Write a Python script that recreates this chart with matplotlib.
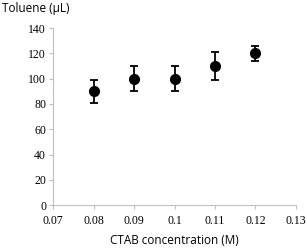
import matplotlib.pyplot as plt

conc = [0.08, 0.09, 0.10, 0.11, 0.12]
toluene = [90, 100, 100, 110, 120]
err = [9, 10, 10, 11, 6]
xticks = [0.07, 0.08, 0.09, 0.1, 0.11, 0.12, 0.13]
xlabels = ['0.07', '0.08', '0.09', '0.1', '0.11', '0.12', '0.13']
yticks = [0, 20, 40, 60, 80, 100, 120, 140]

fig = plt.figure(figsize=(3.07, 2.48), dpi=100)
ax = fig.add_axes([0.173, 0.173, 0.791, 0.714])
ax.errorbar(conc, toluene, yerr=err, fmt='o', color='black', markersize=7,
            elinewidth=1.3, capsize=3, capthick=1.3)
ax.set_xlim(0.07, 0.13)
ax.set_ylim(0, 140)
ax.set_xticks(xticks)
ax.set_xticklabels(xlabels, family='Liberation Serif', fontsize=8.5)
ax.set_yticks(yticks)
ax.set_yticklabels([str(v) for v in yticks], family='Liberation Serif', fontsize=8.5)
for s in ['top', 'right']:
    ax.spines[s].set_visible(False)
for s in ['left', 'bottom']:
    ax.spines[s].set_color('#bfbfbf')
    ax.spines[s].set_linewidth(0.8)
ax.tick_params(colors='#bfbfbf', labelcolor='black', length=3, width=0.8, pad=2)
ax.tick_params(axis='x', pad=4)
ax.set_xlabel('CTAB concentration (M)', family='Open Sans', fontsize=8.5, labelpad=5)
fig.text(0.005, 0.965, 'Toluene (μL)', family='Open Sans', fontsize=8.5, va='center', ha='left')
fig.savefig('out.png', dpi=100)
